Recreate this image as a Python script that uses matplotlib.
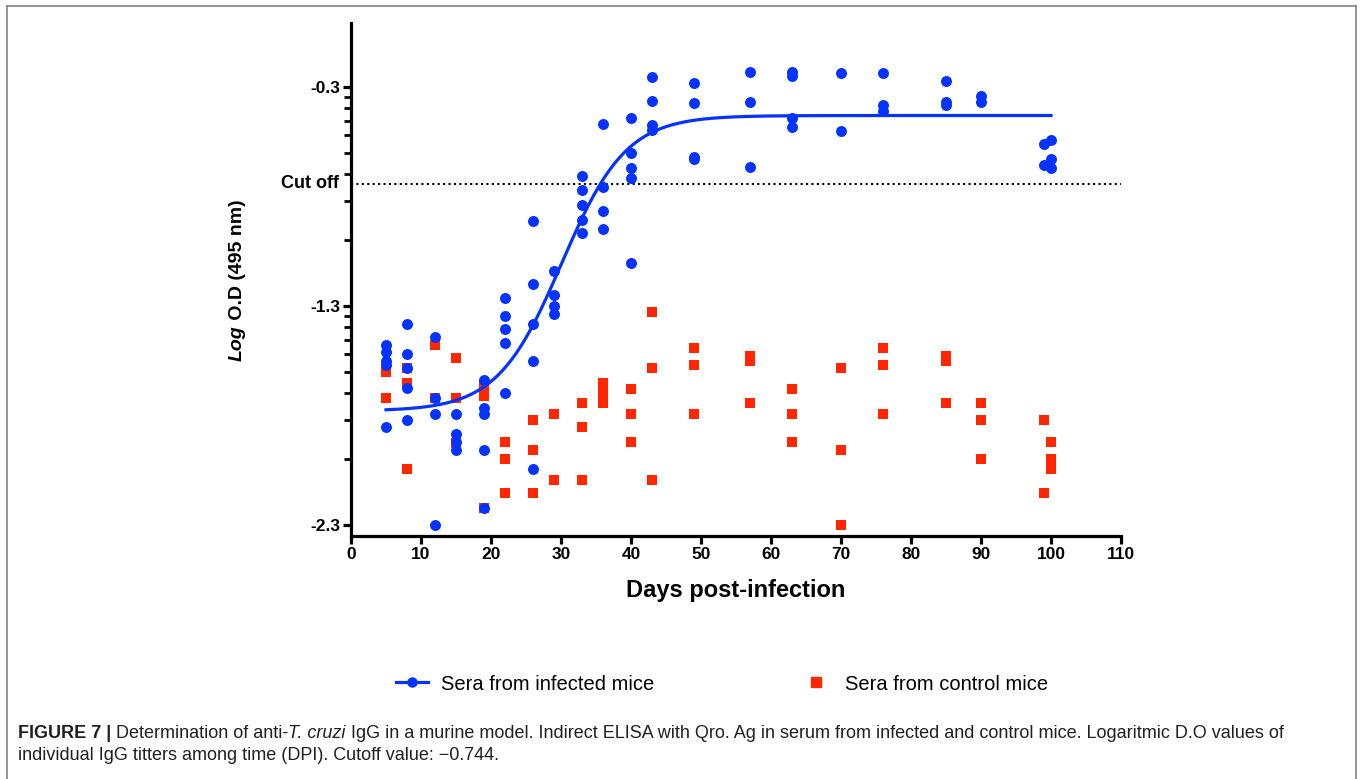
import numpy as np
import matplotlib
matplotlib.use('Agg')
import matplotlib.pyplot as plt
from matplotlib.lines import Line2D

plt.rcParams['font.family'] = ['Liberation Sans', 'DejaVu Sans']

# infected mice, log O.D per day
inf_days = [5]*5 + [8]*5 + [12]*4 + [15]*4 + [19]*5 + [22]*5 + [26]*5 + [29]*4 + [33]*5 \
    + [36]*4 + [40]*5 + [43]*4 + [49]*4 + [57]*3 + [63]*4 + [70]*2 + [76]*3 + [85]*3 \
    + [90]*2 + [99]*2 + [100]*3
inf_od = [-1.478, -1.509, -1.554, -1.569, -1.851,
          -1.384, -1.519, -1.584, -1.676, -1.823,
          -1.443, -1.722, -1.795, -2.300,
          -1.795, -1.885, -1.920, -1.958,
          -1.638, -1.767, -1.795, -1.958, -2.220,
          -1.265, -1.346, -1.406, -1.468, -1.699,
          -0.912, -1.200, -1.384, -1.551, -2.044,
          -1.140, -1.250, -1.300, -1.337,
          -0.710, -0.770, -0.842, -0.907, -0.968,
          -0.470, -0.760, -0.869, -0.950,
          -0.443, -0.603, -0.670, -0.716, -1.105,
          -0.256, -0.367, -0.474, -0.496,
          -0.282, -0.376, -0.622, -0.630,
          -0.232, -0.370, -0.668,
          -0.232, -0.250, -0.445, -0.485,
          -0.240, -0.504,
          -0.237, -0.382, -0.413,
          -0.273, -0.370, -0.382,
          -0.341, -0.372,
          -0.563, -0.657,
          -0.542, -0.630, -0.671]

# control mice
ctl_days = [5]*2 + [8]*3 + [12]*2 + [15]*3 + [19]*3 + [22]*3 + [26]*3 + [29]*2 + [33]*3 \
    + [36]*4 + [40]*3 + [43]*3 + [49]*3 + [57]*3 + [63]*3 + [70]*3 + [76]*3 + [85]*3 \
    + [90]*3 + [99]*2 + [100]*3
ctl_od = [-1.600, -1.722,
          -1.584, -1.653, -2.044,
          -1.478, -1.722,
          -1.536, -1.722, -1.924,
          -1.665, -1.710, -2.220,
          -1.920, -1.999, -2.152,
          -1.822, -1.958, -2.152,
          -1.795, -2.096,
          -1.743, -1.853, -2.096,
          -1.653, -1.684, -1.715, -1.743,
          -1.678, -1.795, -1.920,
          -1.327, -1.584, -2.096,
          -1.493, -1.568, -1.795,
          -1.528, -1.551, -1.744,
          -1.678, -1.795, -1.920,
          -1.584, -1.958, -2.300,
          -1.493, -1.568, -1.795,
          -1.531, -1.554, -1.744,
          -1.744, -1.822, -1.999,
          -1.822, -2.152,
          -1.920, -1.999, -2.044]

# sigmoid fit parameters
fit_bottom = -1.78
fit_top = -0.432
fit_mid = 30.1
fit_slope = 4.6
fit_range = (5, 100)

cutoff = -0.744
yticks = [-0.3, -1.3, -2.3]
xticks = list(range(0, 111, 10))

blue = '#0433FF'
red = '#FF2600'

fig = plt.figure(figsize=(13.6, 7.79), dpi=100)
ax = fig.add_axes([351/1360, 243/779, 770/1360, 513/779])

ax.scatter(ctl_days, ctl_od, marker='s', s=7.2**2, color=red, linewidths=0, zorder=3)
ax.scatter(inf_days, inf_od, marker='o', s=7.9**2, color=blue, linewidths=0, zorder=4)
xs = np.linspace(fit_range[0], fit_range[1], 400)
ys = fit_bottom + (fit_top - fit_bottom) / (1 + np.exp(-(xs - fit_mid) / fit_slope))
ax.plot(xs, ys, color=blue, lw=2.3, zorder=5)
ax.axhline(cutoff, color='black', lw=1.5, ls=(0, (1, 1.6)), zorder=2)

ax.set_xlim(0, 110)
ax.set_ylim(-2.35, -0.01)
for s in ['top', 'right']:
    ax.spines[s].set_visible(False)
for s in ['left', 'bottom']:
    ax.spines[s].set_linewidth(2.3)
ax.set_xticks(xticks)
ax.set_xticklabels([str(t) for t in xticks], fontsize=12.5, fontweight='bold')
ax.set_yticks(yticks)
ax.set_yticklabels([str(t) for t in yticks], fontsize=12.5, fontweight='bold')
minor = [m + np.log10(k / 10) for m in [-0.3, -1.3] for k in range(2, 10)]
ax.set_yticks(minor, minor=True)
ax.tick_params(axis='both', which='major', length=6, width=2.3, pad=2)
ax.tick_params(axis='y', which='minor', length=5, width=2.0)
ax.text(-0.015, cutoff, 'Cut off', transform=ax.get_yaxis_transform(),
        ha='right', va='center', fontsize=13, fontweight='bold')
ax.set_xlabel('Days post-infection', fontsize=17, fontweight='bold', labelpad=12)

renderer = fig.canvas.get_renderer()
W, H = fig.bbox.width, fig.bbox.height

# y label with italic "Log"
ylab = [('Log', 'italic'), (' O.D (495 nm)', 'normal')]
arts = []
total = 0
for txt, st in ylab:
    t = fig.text(237/W, 0, txt, rotation=90, ha='center', va='bottom',
                 fontsize=14, fontweight='bold', style=st)
    h = t.get_window_extent(renderer).height
    arts.append((t, h))
    total += h
y0 = (779 - 280) / H - total / 2 / H
for t, h in arts:
    t.set_y(y0)
    y0 += h / H

# legend
handles = [Line2D([], [], color=blue, lw=2.3, marker='o', ms=6.5),
           Line2D([], [], color=red, lw=0, marker='s', ms=7.2)]
fig.legend(handles, ['Sera from infected mice', 'Sera from control mice'],
           loc='center', bbox_to_anchor=(722/1360, 1 - 684/779), ncol=2,
           frameon=False, fontsize=14.5, handlelength=1.6, handletextpad=0.65,
           columnspacing=7.2)

# caption
def caption_line(x, y, pieces):
    for txt, weight, st in pieces:
        t = fig.text(x / W, 1 - y / H, txt, ha='left', va='center', fontsize=13,
                     fontweight=weight, style=st, color='#231f20')
        x += t.get_window_extent(renderer).width

caption_line(18, 733, [('FIGURE 7 |', 'bold', 'normal'),
                       (' Determination of anti-', 'normal', 'normal'),
                       ('T. cruzi', 'normal', 'italic'),
                       (' IgG in a murine model. Indirect ELISA with Qro. Ag in serum from infected and control mice. Logaritmic D.O values of',
                        'normal', 'normal')])
caption_line(18, 756, [('individual IgG titters among time (DPI). Cutoff value: \u22120.744.', 'normal', 'normal')])

# outer frame (top, left, right)
frame_col = '#8a8a8a'
fig.add_artist(Line2D([7/W, 7/W], [0, 1 - 6/H], color=frame_col, lw=1.3))
fig.add_artist(Line2D([1356/W, 1356/W], [0, 1 - 6/H], color=frame_col, lw=1.3))
fig.add_artist(Line2D([7/W, 1356/W], [1 - 6/H, 1 - 6/H], color=frame_col, lw=1.3))

fig.savefig('out.png', dpi=100)
